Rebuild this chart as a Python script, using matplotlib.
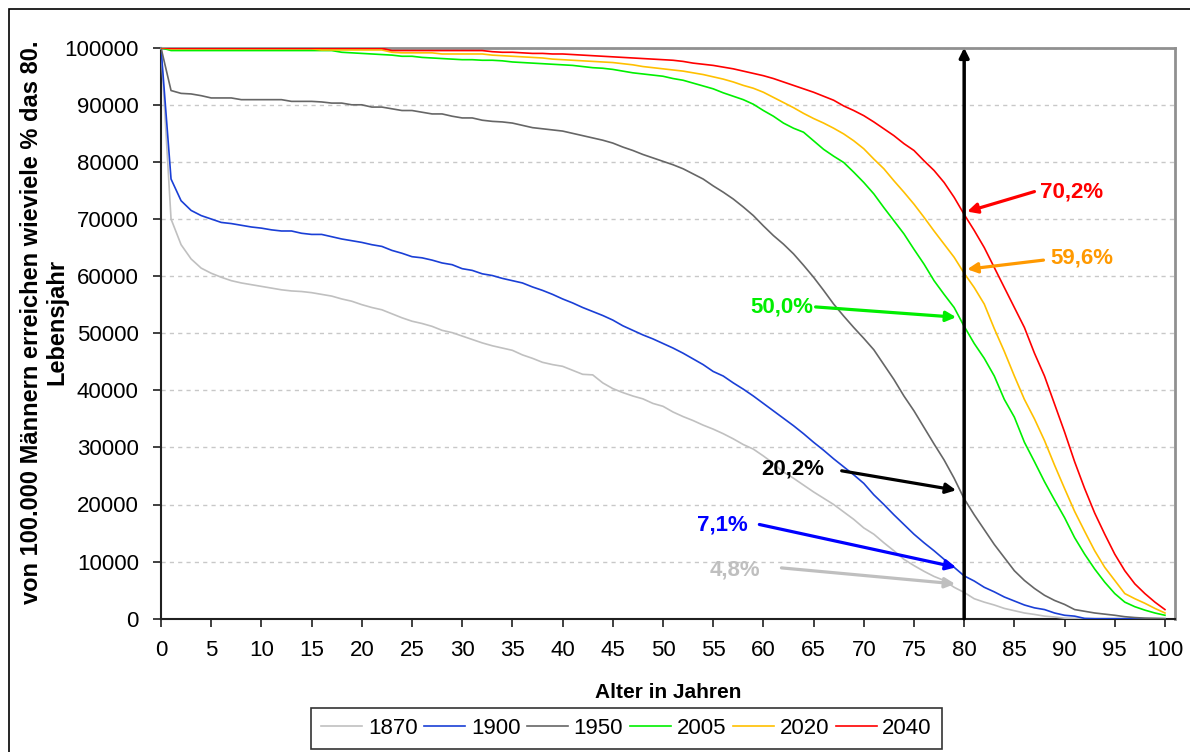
import matplotlib
matplotlib.use("Agg")
import matplotlib.pyplot as plt
from matplotlib.patches import Rectangle

plt.rcParams['font.family'] = ['Liberation Sans', 'DejaVu Sans']

ages = list(range(0, 101))

s1870 = [100000, 70000, 65500, 63000, 61400, 60500, 59800, 59200, 58800, 58500,
         58200, 57900, 57600, 57400, 57300, 57100, 56800, 56500, 56000, 55600,
         55000, 54500, 54100, 53400, 52700, 52100, 51700, 51200, 50500, 50100,
         49500, 48900, 48300, 47800, 47400, 47000, 46200, 45600, 44900, 44500,
         44200, 43500, 42800, 42700, 41300, 40300, 39600, 39000, 38500, 37700,
         37200, 36200, 35400, 34700, 33900, 33200, 32400, 31500, 30500, 29700,
         28500, 27200, 25700, 24600, 23400, 22200, 21100, 20000, 18700, 17400,
         15900, 14800, 13300, 11900, 10400, 9300, 8300, 7400, 6700, 5500,
         4600, 3500, 2900, 2400, 1800, 1400, 1000, 750, 450, 300,
         100, 50, 0, 0, 0, 0, 0, 0, 0, 0, 0]

s1900 = [100000, 77000, 73200, 71500, 70600, 70000, 69400, 69200, 68900, 68600,
         68400, 68100, 67900, 67900, 67500, 67300, 67300, 66900, 66500, 66200,
         65900, 65500, 65200, 64500, 64000, 63400, 63200, 62800, 62300, 62000,
         61300, 61000, 60400, 60100, 59600, 59200, 58800, 58100, 57500, 56800,
         56000, 55300, 54500, 53800, 53100, 52300, 51300, 50500, 49700, 49000,
         48200, 47400, 46500, 45500, 44500, 43300, 42500, 41300, 40200, 39000,
         37700, 36400, 35100, 33800, 32400, 30900, 29500, 28000, 26600, 25200,
         23700, 21700, 20000, 18200, 16500, 14800, 13300, 11900, 10400, 9000,
         7500, 6600, 5500, 4700, 3800, 3100, 2400, 1900, 1600, 1000,
         600, 450, 50, 0, 0, 0, 0, 0, 0, 0, 0]

s1950 = [100000, 92500, 92000, 91900, 91600, 91200, 91200, 91200, 90900, 90900,
         90900, 90900, 90900, 90600, 90600, 90600, 90500, 90300, 90300, 90000,
         90000, 89600, 89600, 89300, 89000, 89000, 88700, 88400, 88400, 88000,
         87700, 87700, 87300, 87100, 87000, 86800, 86400, 86000, 85800, 85600,
         85400, 85000, 84600, 84200, 83800, 83300, 82600, 82000, 81300, 80700,
         80100, 79500, 78800, 77900, 77000, 75800, 74700, 73500, 72100, 70600,
         68800, 67100, 65600, 63900, 61900, 59800, 57500, 55100, 53000, 51000,
         49100, 47100, 44500, 41900, 39000, 36400, 33500, 30600, 27800, 24600,
         21000, 18200, 15600, 13000, 10700, 8400, 6700, 5300, 4100, 3200,
         2500, 1600, 1300, 1000, 800, 600, 350, 200, 100, 50, 0]

s2005 = [100000, 99500, 99500, 99500, 99500, 99500, 99500, 99500, 99500, 99500,
         99500, 99500, 99500, 99500, 99500, 99500, 99500, 99500, 99200, 99100,
         99000, 98900, 98800, 98700, 98500, 98500, 98300, 98200, 98100, 98000,
         97900, 97900, 97800, 97800, 97700, 97500, 97400, 97300, 97200, 97100,
         97000, 96900, 96700, 96500, 96400, 96200, 95900, 95600, 95400, 95200,
         95000, 94600, 94300, 93800, 93300, 92800, 92100, 91500, 90900, 90100,
         89000, 88000, 86800, 85900, 85200, 83700, 82200, 81000, 79900, 78200,
         76400, 74400, 72000, 69700, 67400, 64700, 62100, 59200, 56800, 54500,
         51200, 48200, 45600, 42500, 38400, 35300, 30900, 27500, 24000, 20800,
         17700, 14200, 11300, 8700, 6400, 4400, 2900, 2100, 1500, 1000, 600]

s2020 = [100000, 99800, 99800, 99800, 99800, 99800, 99800, 99800, 99800, 99800,
         99800, 99800, 99800, 99800, 99800, 99800, 99600, 99600, 99600, 99600,
         99600, 99600, 99600, 99200, 99100, 99100, 99100, 99100, 98900, 98900,
         98900, 98900, 98900, 98700, 98600, 98500, 98400, 98300, 98200, 98000,
         97900, 97800, 97700, 97600, 97500, 97400, 97200, 97000, 96700, 96500,
         96300, 96100, 95900, 95600, 95300, 94900, 94500, 94000, 93400, 92900,
         92200, 91300, 90400, 89500, 88500, 87600, 86800, 85900, 84900, 83700,
         82300, 80500, 78800, 76700, 74700, 72600, 70300, 67900, 65600, 63300,
         60500, 58000, 55100, 50800, 46800, 42500, 38400, 35000, 31200, 26900,
         22800, 18800, 15300, 11900, 9000, 6700, 4400, 3500, 2700, 1800, 1000]

s2040 = [100000, 99900, 99900, 99900, 99900, 99900, 99900, 99900, 99900, 99900,
         99900, 99900, 99900, 99900, 99900, 99900, 99900, 99900, 99900, 99900,
         99900, 99900, 99900, 99500, 99500, 99500, 99500, 99500, 99500, 99500,
         99500, 99500, 99500, 99300, 99200, 99200, 99100, 99000, 99000, 98900,
         98900, 98800, 98700, 98600, 98500, 98400, 98300, 98200, 98100, 98000,
         97900, 97800, 97600, 97300, 97100, 96900, 96600, 96300, 95900, 95500,
         95100, 94600, 94000, 93400, 92800, 92200, 91500, 90800, 89800, 89000,
         88100, 87000, 85800, 84600, 83200, 82000, 80200, 78500, 76400, 73800,
         70800, 68000, 65000, 61500, 58000, 54500, 51000, 46500, 42500, 37600,
         32700, 27500, 22800, 18500, 14800, 11300, 8400, 6100, 4400, 2900, 1600]

series_labels = ["1870", "1900", "1950", "2005", "2020", "2040"]
series_data = [s1870, s1900, s1950, s2005, s2020, s2040]
series_colors = ["#C0C0C0", "#1A3FD6", "#666666", "#00F000", "#FFC000", "#FF0000"]

ann_texts = ["70,2%", "59,6%", "50,0%", "20,2%", "7,1%", "4,8%"]
ann_colors = ["#FF0000", "#FF9900", "#00EE00", "#000000", "#0000FF", "#BFBFBF"]
ann_text_xy = [(87.6, 74800), (88.6, 63100), (58.7, 54600), (59.8, 26200), (53.4, 16400), (54.6, 8500)]
ann_start_xy = [(87.0, 74800), (87.9, 62800), (65.2, 54600), (67.8, 25900), (59.6, 16500), (61.8, 8900)]
ann_tip_xy = [(80.3, 71300), (80.3, 61200), (79.2, 52800), (79.2, 22500), (79.2, 9000), (79.1, 6100)]

fig = plt.figure(figsize=(11.9, 7.52), dpi=100)
fig.patch.set_facecolor("white")
fig.patches.append(Rectangle((9 / 1190, -0.1), 1.2, (752 - 9) / 752 + 0.1,
                             transform=fig.transFigure, fill=False,
                             edgecolor="black", linewidth=1.2))

ax = fig.add_axes([161 / 1190, (752 - 618.7) / 752, (1175 - 161) / 1190, (618.7 - 47.7) / 752])

for lab, ys, col in zip(series_labels, series_data, series_colors):
    ax.plot(ages, ys, color=col, linewidth=1.2, label=lab, zorder=3)

ax.set_xlim(0, 101)
ax.set_ylim(0, 100000)
ax.set_xticks(range(0, 101, 5))
ax.set_yticks(range(0, 100001, 10000))
ax.yaxis.grid(True, color="#C8C8C8", linestyle=(0, (3, 3)), linewidth=1)
ax.set_axisbelow(True)

ax.tick_params(axis="both", direction="out", length=6, width=1.2, color="#202020",
               labelsize=16)
ax.tick_params(axis="y", pad=10)
ax.tick_params(axis="x", pad=9)
for side in ["left", "bottom"]:
    ax.spines[side].set_color("#202020")
    ax.spines[side].set_linewidth(1.5)
for side in ["top", "right"]:
    ax.spines[side].set_color("#909090")
    ax.spines[side].set_linewidth(2)

ax.set_xlabel("Alter in Jahren", fontsize=15, fontweight="bold", labelpad=16)
fig.text(44 / 1190, 1 - 322 / 752,
         "von 100.000 Männern erreichen wieviele % das 80.\nLebensjahr",
         rotation=90, ha="center", va="center", multialignment="center",
         fontsize=17, fontweight="bold", linespacing=1.15)

# vertical arrow at age 80
ax.annotate("", xy=(80, 100000), xytext=(80, 0),
            arrowprops=dict(arrowstyle="-|>", color="black", lw=2.5,
                            mutation_scale=14, shrinkA=0, shrinkB=0),
            zorder=5, annotation_clip=False)

for t, c, txy, sxy, pxy in zip(ann_texts, ann_colors, ann_text_xy, ann_start_xy, ann_tip_xy):
    ax.text(txy[0], txy[1], t, color=c, fontsize=16, fontweight="bold",
            ha="left", va="center", zorder=6)
    ax.annotate("", xy=pxy, xytext=sxy,
                arrowprops=dict(arrowstyle="-|>", color=c, lw=2.3,
                                mutation_scale=15, shrinkA=0, shrinkB=0),
                zorder=6)

leg = fig.legend(loc="center", bbox_to_anchor=(626.5 / 1190, 1 - 728.5 / 752),
                 ncol=6, fontsize=16, frameon=True, fancybox=False,
                 edgecolor="black", handlelength=1.85, columnspacing=0.3,
                 handletextpad=0.25, borderpad=0.45, borderaxespad=0)
leg.get_frame().set_linewidth(1.2)

fig.savefig("out.png", dpi=100, facecolor="white")
